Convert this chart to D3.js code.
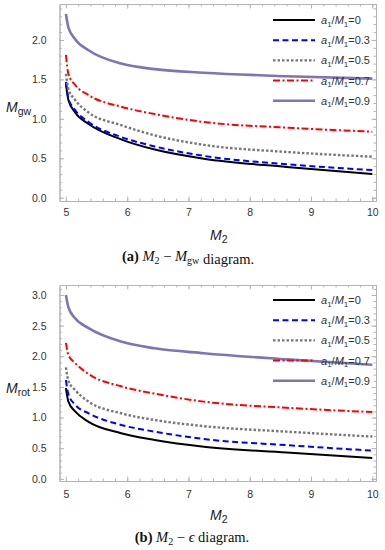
<!DOCTYPE html>
<html>
<head>
<meta charset="utf-8">
<script src="https://cdn.jsdelivr.net/npm/d3@7"></script>
<style>
  body { margin: 0; background: #fff; }
  svg { display: block; font-family: "Liberation Sans", Arial, sans-serif; }
</style>
</head>
<body>
<svg width="385" height="550"></svg>
<script>
// M2 sample points
const m2 = [5, 5.04, 5.15, 5.37, 5.9, 6.45, 7.25, 8.6, 10];
const spinLabels = ["0", "0.3", "0.5", "0.7", "0.9"];

// panel (a): M_gw
const gw0 = [1.45, 1.24, 1.08, 0.935, 0.74, 0.61, 0.495, 0.39, 0.30];
const gw3 = [1.47, 1.26, 1.11, 0.96, 0.77, 0.65, 0.53, 0.425, 0.35];
const gw5 = [1.57, 1.38, 1.24, 1.08, 0.92, 0.79, 0.67, 0.58, 0.52];
const gw7 = [1.81, 1.57, 1.43, 1.30, 1.154, 1.06, 0.96, 0.888, 0.837];
const gw9 = [2.33, 2.16, 2.01, 1.87, 1.70, 1.63, 1.585, 1.54, 1.51];

// panel (b): M_rot
const rot0 = [1.48, 1.26, 1.10, 0.93, 0.745, 0.635, 0.525, 0.43, 0.34];
const rot3 = [1.61, 1.38, 1.21, 1.07, 0.88, 0.77, 0.65, 0.55, 0.46];
const rot5 = [1.82, 1.60, 1.45, 1.26, 1.07, 0.96, 0.86, 0.77, 0.69];
const rot7 = [2.22, 2.02, 1.89, 1.71, 1.51, 1.39, 1.26, 1.16, 1.09];
const rot9 = [3.0, 2.80, 2.62, 2.46, 2.24, 2.13, 2.05, 1.95, 1.86];

const xTicks = [5, 6, 7, 8, 9, 10];
const yTicksA = [0.0, 0.5, 1.0, 1.5, 2.0];
const yTicksB = [0.0, 0.5, 1.0, 1.5, 2.0, 2.5, 3.0];

const styles = [
  { color: "#000000", width: 2, dash: null },
  { color: "#0000ff", width: 2, dash: "6,3.5" },
  { color: "#777777", width: 2.4, dash: "2.5,2" },
  { color: "#ff0000", width: 2, dash: "7,2.5,2,2.5" },
  { color: "#7f74b8", width: 2.6, dash: null }
];

const svg = d3.select("svg");
const frameColor = "#b5b5b5";
const left = 59.5, right = 376;

function drawPanel(opts) {
  const g = svg.append("g");
  const xScale = d3.scaleLinear().domain([4.895, 10.06]).range([left, right]);
  const yScale = d3.scaleLinear().domain(opts.yDomain).range([opts.bottom, opts.top]);

  // minor ticks
  const xMinor = d3.range(4.8, 10.21, 0.2).filter(v => v > 4.89 && v < 10.07);
  const yMinor = d3.range(0, opts.yDomain[1], 0.1);
  const minorAxes = [
    [d3.axisBottom(xScale).tickValues(xMinor), `translate(0,${opts.bottom})`],
    [d3.axisTop(xScale).tickValues(xMinor), `translate(0,${opts.top})`],
    [d3.axisLeft(yScale).tickValues(yMinor), `translate(${left},0)`],
    [d3.axisRight(yScale).tickValues(yMinor), `translate(${right},0)`]
  ];
  minorAxes.forEach(([ax, tr]) => {
    g.append("g").attr("transform", tr)
      .call(ax.tickSize(-2.5).tickSizeOuter(0).tickFormat(""))
      .call(s => s.selectAll("line,path").attr("stroke", frameColor));
  });

  // major ticks + labels
  const xAxis = d3.axisBottom(xScale).tickValues(xTicks).tickSize(-4.5).tickSizeOuter(0)
    .tickPadding(opts.xPad).tickFormat(d3.format("d"));
  const yAxis = d3.axisLeft(yScale).tickValues(opts.yTicks).tickSize(-4.5).tickSizeOuter(0)
    .tickPadding(13).tickFormat(d3.format(".1f"));
  g.append("g").attr("transform", `translate(0,${opts.bottom})`).call(xAxis);
  g.append("g").attr("transform", `translate(${left},0)`).call(yAxis);
  g.append("g").attr("transform", `translate(0,${opts.top})`)
    .call(d3.axisTop(xScale).tickValues(xTicks).tickSize(-4.5).tickSizeOuter(0).tickFormat(""));
  g.append("g").attr("transform", `translate(${right},0)`)
    .call(d3.axisRight(yScale).tickValues(opts.yTicks).tickSize(-4.5).tickSizeOuter(0).tickFormat(""));
  g.selectAll(".tick line, .domain").attr("stroke", frameColor);
  g.selectAll(".tick text").attr("fill", "#333").style("font-size", "10.5px")
    .style("font-family", "'Liberation Sans', Arial, sans-serif");

  // curves
  const line = d3.line().x((d, i) => xScale(m2[i])).y(d => yScale(d)).curve(d3.curveMonotoneX);
  opts.series.forEach((s, i) => {
    g.append("path").datum(s)
      .attr("d", line)
      .attr("fill", "none")
      .attr("stroke", styles[i].color)
      .attr("stroke-width", styles[i].width)
      .attr("stroke-dasharray", styles[i].dash);
  });

  // legend
  const leg = g.append("g");
  spinLabels.forEach((lab, i) => {
    const y = opts.legendTop + i * 20.2;
    leg.append("line")
      .attr("x1", 273).attr("x2", 315).attr("y1", y).attr("y2", y)
      .attr("stroke", styles[i].color)
      .attr("stroke-width", styles[i].width)
      .attr("stroke-dasharray", styles[i].dash);
    const t = leg.append("text").attr("x", 321).attr("y", y + 4)
      .attr("fill", "#333").style("font-size", "11px");
    t.append("tspan").style("font-style", "italic").text("a");
    t.append("tspan").attr("dy", 2.5).style("font-size", "8px").text("1");
    t.append("tspan").attr("dy", -2.5).text("/");
    t.append("tspan").style("font-style", "italic").text("M");
    t.append("tspan").attr("dy", 2.5).style("font-size", "8px").text("1");
    t.append("tspan").attr("dy", -2.5).text("=" + lab);
  });

  // axis labels
  const yl = g.append("text").attr("x", 6).attr("y", opts.yLabelY)
    .attr("fill", "#222").style("font-size", "14px");
  yl.append("tspan").style("font-style", "italic").text("M");
  yl.append("tspan").attr("dy", 3).style("font-size", "10.5px").text(opts.yLabelSub);

  const xl = g.append("text").attr("x", 210).attr("y", opts.xLabelY)
    .attr("fill", "#222").style("font-size", "14px");
  xl.append("tspan").style("font-style", "italic").text("M");
  xl.append("tspan").attr("dy", 3).style("font-size", "10.5px").text("2");

  // caption
  const cap = g.append("text").attr("x", opts.capX).attr("y", opts.capY)
    .attr("text-anchor", "middle").attr("fill", "#111")
    .style("font-family", "'Liberation Serif', 'Times New Roman', serif").style("font-size", "14.5px");
  cap.append("tspan").style("font-weight", "bold").text("(" + opts.tag + ")");
  cap.append("tspan").text(" ");
  cap.append("tspan").style("font-style", "italic").text("M");
  cap.append("tspan").attr("dy", 3).style("font-size", "10px").text("2");
  cap.append("tspan").attr("dy", -3).text(" \u2212 ");
  opts.capVar(cap);
  cap.append("tspan").text(" diagram.");
}

drawPanel({
  top: 4, bottom: 201, yDomain: [-0.042, 2.456], yTicks: yTicksA,
  series: [gw0, gw3, gw5, gw7, gw9], legendTop: 20,
  xPad: 8, yLabelY: 112, yLabelSub: "gw", xLabelY: 240,
  capX: 188, capY: 261, tag: "a",
  capVar: cap => {
    cap.append("tspan").style("font-style", "italic").text("M");
    cap.append("tspan").attr("dy", 3).style("font-size", "10px").text("gw");
    cap.append("tspan").attr("dy", -3).text("");
  }
});

drawPanel({
  top: 285, bottom: 481, yDomain: [-0.035, 3.163], yTicks: yTicksB,
  series: [rot0, rot3, rot5, rot7, rot9], legendTop: 300,
  xPad: 9.5, yLabelY: 393, yLabelSub: "rot", xLabelY: 520,
  capX: 192, capY: 542, tag: "b",
  capVar: cap => {
    cap.append("tspan").style("font-style", "italic").text("\u03F5");
  }
});
</script>
</body>
</html>
